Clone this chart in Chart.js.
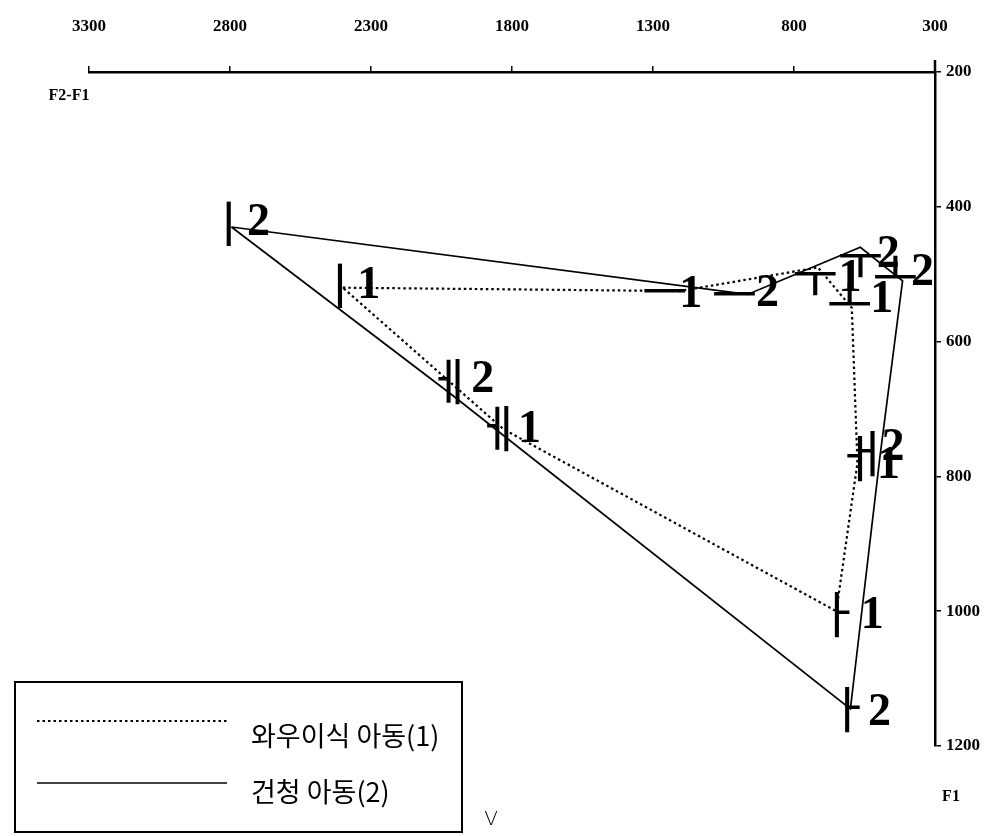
<!DOCTYPE html>
<html>
<head>
<meta charset="utf-8">
<script src="https://cdn.jsdelivr.net/npm/chart.js@4.4.1/dist/chart.umd.min.js"></script>
<style>
  html, body { margin: 0; padding: 0; background: #fff; }
  canvas { display: block; }
</style>
</head>
<body>
<canvas id="c" width="999" height="836"></canvas>
<script>
// Korean vowels, in the order each vowel space outline is traced
const vowels = ['ㅣ', 'ㅡ', 'ㅜ', 'ㅗ', 'ㅓ', 'ㅏ', 'ㅔ'];

// Cochlear-implant children (1): F2-F1 and F1 in Hz
const ciF2F1 = [2400, 1205, 715, 595, 575, 650, 1830];
const ciF1   = [520, 525, 490, 550, 780, 1000, 730];

// Normal-hearing children (2): F2-F1 and F1 in Hz
const nhF2F1 = [2795, 965, 565, 415, 495, 600, 2010];
const nhF1   = [430, 530, 460, 510, 770, 1145, 680];

const seriesNames = ['와우이식 아동(1)', '건청 아동(2)'];
const seriesTags  = ['1', '2'];

const xTickValues = [3300, 2800, 2300, 1800, 1300, 800, 300];
const yTickValues = [200, 400, 600, 800, 1000, 1200];

// Where each vowel glyph and its group number sit relative to the point
const labelPlace = {
  'ㅣ1': { g: [-3, -3],  n: [26, -2] },
  'ㅣ2': { g: [-3, -4],  n: [27, -4] },
  'ㅡ1': { g: [-15, 0],  n: [11, 4] },
  'ㅡ2': { g: [-13, 0],  n: [20, 0] },
  'ㅜ1': { g: [-3, 12],  n: [32, 12] },
  'ㅜ2': { g: [0, 14],   n: [28, 8] },
  'ㅗ1': { g: [-2, -12], n: [30, -8] },
  'ㅗ2': { g: [-7, -12], n: [20, -8] },
  'ㅓ1': { g: [-2, -5],  n: [31, 3] },
  'ㅓ2': { g: [-12, -3], n: [13, -8] },
  'ㅏ1': { g: [2, 3],    n: [36, 5] },
  'ㅏ2': { g: [-2, 0],   n: [29, 4] },
  'ㅔ1': { g: [-5, -1],  n: [26, 1] },
  'ㅔ2': { g: [-3, -15], n: [30, -15] }
};

// Close each outline by returning to the first vowel
function outline(xs, ys) {
  const pts = xs.map((x, i) => ({ x: x, y: ys[i] }));
  pts.push({ x: xs[0], y: ys[0] });
  return pts;
}

const groups = [
  { xs: ciF2F1, ys: ciF1, tag: seriesTags[0] },
  { xs: nhF2F1, ys: nhF1, tag: seriesTags[1] }
];

const annotate = {
  id: 'vowelAnnotate',
  afterDatasetsDraw(chart) {
    const ctx = chart.ctx;
    const xs = chart.scales.x, ys = chart.scales.y;
    const area = chart.chartArea;
    ctx.save();
    ctx.fillStyle = '#000';
    ctx.strokeStyle = '#000';

    // short extension of the F1 axis above the F2-F1 axis
    ctx.lineWidth = 2.5;
    ctx.beginPath();
    ctx.moveTo(area.right, area.top - 12);
    ctx.lineTo(area.right, area.top);
    ctx.stroke();

    // vowel glyphs and group numbers at each formant point
    groups.forEach(gr => {
      gr.xs.forEach((v, i) => {
        const px = xs.getPixelForValue(v);
        const py = ys.getPixelForValue(gr.ys[i]);
        const key = vowels[i] + gr.tag;
        const p = labelPlace[key] || { g: [0, 0], n: [28, 0] };
        ctx.textAlign = 'center';
        ctx.textBaseline = 'middle';
        ctx.font = '400 50px "Noto Sans CJK KR"';
        ctx.fillText(vowels[i], px + p.g[0], py + p.g[1]);
        ctx.font = 'bold 46px "Liberation Serif"';
        ctx.fillText(gr.tag, px + p.n[0], py + p.n[1]);
      });
    });

    // axis names
    ctx.textAlign = 'center';
    ctx.textBaseline = 'middle';
    ctx.font = 'bold 16px "Liberation Serif"';
    ctx.fillText('F2-F1', area.left - 20, area.top + 24);
    ctx.fillText('F1', area.right + 16, area.bottom + 51);

    // legend
    ctx.lineWidth = 2;
    ctx.setLineDash([]);
    ctx.strokeRect(15, 682, 447, 150);
    chart.data.datasets.forEach((ds, i) => {
      const ly = 721 + i * 62;
      ctx.save();
      ctx.lineWidth = ds.borderWidth;
      ctx.setLineDash(ds.borderDash || []);
      ctx.beginPath();
      ctx.moveTo(37, ly);
      ctx.lineTo(227, ly);
      ctx.stroke();
      ctx.restore();
      ctx.textAlign = 'left';
      ctx.textBaseline = 'middle';
      ctx.font = '400 27px "Noto Sans CJK KR"';
      ctx.fillText(ds.label, 251, ly + 15 - i * 6);
    });

    ctx.font = '300 20px "DejaVu Sans"';
    ctx.textAlign = 'center';
    ctx.fillText('V', 491, 820);
    ctx.restore();
  }
};

const tickFont = { family: 'Liberation Serif', size: 17, weight: 'bold' };
const plain = v => String(v);

new Chart(document.getElementById('c'), {
  type: 'scatter',
  data: {
    datasets: [
      {
        label: seriesNames[0],
        data: outline(ciF2F1, ciF1),
        showLine: true,
        borderColor: '#000',
        borderWidth: 2.2,
        borderDash: [2.5, 3],
        pointRadius: 0,
        fill: false
      },
      {
        label: seriesNames[1],
        data: outline(nhF2F1, nhF1),
        showLine: true,
        borderColor: '#000',
        borderWidth: 1.7,
        pointRadius: 0,
        fill: false
      }
    ]
  },
  options: {
    responsive: false,
    animation: false,
    layout: { padding: { left: 89, top: 0, right: 0, bottom: 90 } },
    plugins: { legend: { display: false }, tooltip: { enabled: false } },
    scales: {
      x: {
        type: 'linear',
        position: 'top',
        reverse: true,
        min: 300,
        max: 3300,
        afterBuildTicks: s => { s.ticks = xTickValues.map(v => ({ value: v })); },
        afterFit: s => { s.height = 72; },
        grid: { drawOnChartArea: false, drawTicks: true, tickLength: 6, color: '#000', lineWidth: 1.5 },
        border: { display: true, color: '#000', width: 2.5 },
        ticks: { color: '#000', padding: 29, font: tickFont, maxRotation: 0, autoSkip: false, callback: plain }
      },
      y: {
        type: 'linear',
        position: 'right',
        reverse: true,
        min: 200,
        max: 1200,
        afterBuildTicks: s => { s.ticks = yTickValues.map(v => ({ value: v })); },
        afterFit: s => { s.width = 64; },
        grid: { drawOnChartArea: false, drawTicks: true, tickLength: 6, color: '#000', lineWidth: 1.5 },
        border: { display: true, color: '#000', width: 2.5 },
        ticks: { color: '#000', padding: 5, font: tickFont, autoSkip: false, callback: plain }
      }
    }
  },
  plugins: [annotate]
});
</script>
</body>
</html>
